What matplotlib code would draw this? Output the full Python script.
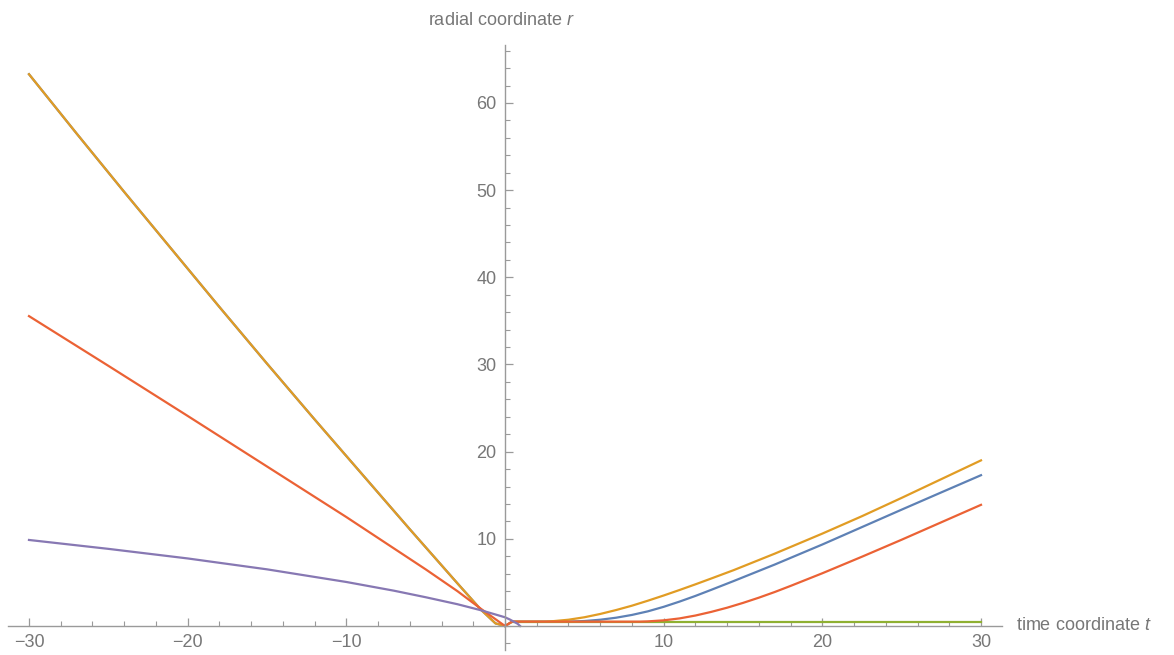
import matplotlib
matplotlib.use("Agg")
import matplotlib.pyplot as plt
from matplotlib.ticker import MultipleLocator, FixedLocator, FixedFormatter

plt.rcParams['font.family'] = ['Liberation Sans', 'DejaVu Sans']
plt.rcParams['mathtext.fontset'] = 'custom'
plt.rcParams['mathtext.it'] = 'Liberation Sans:italic'
plt.rcParams['mathtext.rm'] = 'Liberation Sans'

# ---- data ----
# incoming branch shared by the blue and gold series (gold drawn on top)
t_left_fast = [-30, -27, -24, -21, -18, -15, -12, -9, -6, -3, -1.5, -0.6, 0]
r_left_fast = [63.3, 56.5, 49.8, 43.2, 36.6, 30.1, 23.7, 17.4, 11.1, 4.9, 1.84, 0.3, 0.0]

t_blue_right = [0, 0.45, 4, 5, 6, 7, 8, 9, 10, 11, 12, 13, 14.4, 17, 20, 22.5, 25, 27.5, 30]
r_blue_right = [0, 0.5, 0.5, 0.57, 0.72, 0.95, 1.27, 1.68, 2.2, 2.8, 3.45, 4.15, 5.15,
                7.05, 9.35, 11.35, 13.35, 15.33, 17.3]

t_gold_right = [0, 0.45, 2.5, 3, 4, 5, 6, 7, 8, 9, 10, 11, 12, 13, 14.4, 17, 20, 22.5, 25, 27.5, 30]
r_gold_right = [0, 0.5, 0.5, 0.55, 0.72, 1.0, 1.38, 1.83, 2.33, 2.9, 3.5, 4.13, 4.78, 5.45,
                6.4, 8.3, 10.6, 12.6, 14.7, 16.85, 19.0]

t_green = [0.45, 30]
r_green = [0.5, 0.5]

t_red = [-30, -25, -20, -15, -10, -5, -3, -1.5, 0, 0.45, 8.5, 9, 10, 11, 12, 13, 14, 15,
         16, 17, 18, 20, 22.5, 25, 27.5, 30]
r_red = [35.55, 29.85, 24.1, 18.3, 12.5, 6.5, 4.0, 1.95, 0.0, 0.5, 0.5, 0.53, 0.65, 0.87, 1.2,
         1.62, 2.1, 2.65, 3.25, 3.9, 4.6, 6.05, 7.95, 9.9, 11.9, 13.9]

t_purple = [-30, -25, -20, -15, -10, -7, -5, -3, -1.5, 0, 0.3, 0.6, 0.8, 0.95]
r_purple = [9.87, 8.85, 7.75, 6.5, 5.05, 4.05, 3.3, 2.5, 1.8, 1.0, 0.75, 0.45, 0.25, 0.0]

x_ticks = [-30, -20, -10, 10, 20, 30]
x_ticklabels = ['\u221230', '\u221220', '\u221210', '10', '20', '30']
y_ticks = [10, 20, 30, 40, 50, 60]
y_ticklabels = ['10', '20', '30', '40', '50', '60']

c_blue = '#5E81B5'
c_gold = '#E19C24'
c_green = '#8FB032'
c_red = '#EB6235'
c_purple = '#8778B3'

# ---- figure ----
W, H = 1174, 655
fig = plt.figure(figsize=(W / 100, H / 100), dpi=100)
xmin, xmax = -31.3, 31.3
ymin, ymax = -2.8, 66.7
sx = 15.867  # px per unit
sy = 8.717
x0_px, y0_px = 505, 626
left = (x0_px + xmin * sx) / W
right = (x0_px + xmax * sx) / W
bottom = 1 - (y0_px - ymin * sy) / H
top = 1 - (y0_px - ymax * sy) / H
ax = fig.add_axes([left, bottom, right - left, top - bottom])
ax.set_xlim(xmin, xmax)
ax.set_ylim(ymin, ymax)

lw = 1.6
ax.plot(t_left_fast, r_left_fast, color=c_blue, lw=lw)
ax.plot(t_blue_right, r_blue_right, color=c_blue, lw=lw)
ax.plot(t_left_fast, r_left_fast, color=c_gold, lw=lw)
ax.plot(t_gold_right, r_gold_right, color=c_gold, lw=lw)
ax.plot(t_green, r_green, color=c_green, lw=lw)
ax.plot(t_red, r_red, color=c_red, lw=lw)
ax.plot(t_purple, r_purple, color=c_purple, lw=lw)

axis_col = '#9a9a9a'
text_col = '#777777'
for s in ['top', 'right']:
    ax.spines[s].set_visible(False)
ax.spines['left'].set_position(('data', 0))
ax.spines['bottom'].set_position(('data', 0))
for s in ['left', 'bottom']:
    ax.spines[s].set_color(axis_col)
    ax.spines[s].set_linewidth(1.0)

ax.xaxis.set_major_locator(FixedLocator(x_ticks))
ax.xaxis.set_major_formatter(FixedFormatter(x_ticklabels))
ax.xaxis.set_minor_locator(MultipleLocator(2))
ax.yaxis.set_major_locator(FixedLocator(y_ticks))
ax.yaxis.set_major_formatter(FixedFormatter(y_ticklabels))
ax.yaxis.set_minor_locator(MultipleLocator(2))

ax.tick_params(axis='both', which='major', direction='in', length=5.5, width=0.9,
               color=axis_col, labelcolor=text_col, labelsize=13, pad=6)
ax.tick_params(axis='both', which='minor', direction='in', length=3.5, width=0.8,
               color=axis_col)
ax.patch.set_visible(False)

ax.text(-0.2, 69.5, 'radial coordinate $r$', ha='center', va='center',
        fontsize=13, color=text_col, clip_on=False)
ax.text(32.2, 0.0, 'time coordinate $t$', ha='left', va='center',
        fontsize=13, color=text_col, clip_on=False)

fig.savefig('out.png', dpi=100)
